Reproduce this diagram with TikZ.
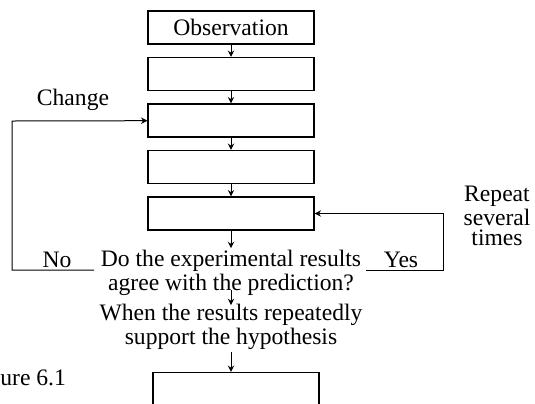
\documentclass[tikz,border=0pt]{standalone}
\usepackage{fontspec}
\setmainfont{Liberation Serif}
\usetikzlibrary{arrows.meta}

\begin{document}
\begin{tikzpicture}[x=0.5pt, y=-0.5pt,
                main/.style = {draw, line width=0.6pt, minimum width=83pt, minimum height=16.5pt, inner sep=0pt},
                txt/.style = {align=center, inner sep=1pt, font=\fontsize{11.8}{10.3}\selectfont},
                arr/.style = {-{Stealth[length=3.2pt, width=3.2pt]}, line width=0.5pt},
                node distance=23.25pt]
                \useasboundingbox (0,0) rectangle (535,403);
                \node[main, txt] (1) at (231,27.5) {Observation};
                \node[main] (2) [below of=1] {};
                \node[main] (3) [below of=2] {};
                \node[main] (4) [below of=3] {};
                \node[main] (5) [below of=4] {};
                \node[txt] (q) at (231,273) {Do the experimental results\\agree with the prediction?};
                \node[txt] (w) at (231,327) {When the results repeatedly\\support the hypothesis};
                \node[main] (6) at (236,389) {};
                \coordinate (no) at (94,270);
                \coordinate (yes) at (366,270);
                \node[txt] (change) at (73,100) {Change};
                \node[txt] (nolabel) at (57,260) {No};
                \node[txt] (yeslabel) at (401,260) {Yes};
                \node[txt] (repeat) at (497,216) {Repeat\\several\\times};
                \node[txt, anchor=west] (fig) at (-2,378) {ure 6.1};
                \draw[arr] (1) -- (2);
                \draw[arr] (2) -- (3);
                \draw[arr] (3) -- (4);
                \draw[arr] (4) -- (5);
                \draw[arr] (5) -- (q);
                \draw[arr, shorten <=-4pt, shorten >=-1.5pt] (q) -- (w);
                \draw[arr] (w.south) -- (w.south |- 6.north);
                \draw[arr] (no) -- (12,270) -- (12,121) -- (3);
                \draw[arr] (yes) -- (443,270) -- (443,213.5) -- (5);
            \end{tikzpicture}
\end{document}
